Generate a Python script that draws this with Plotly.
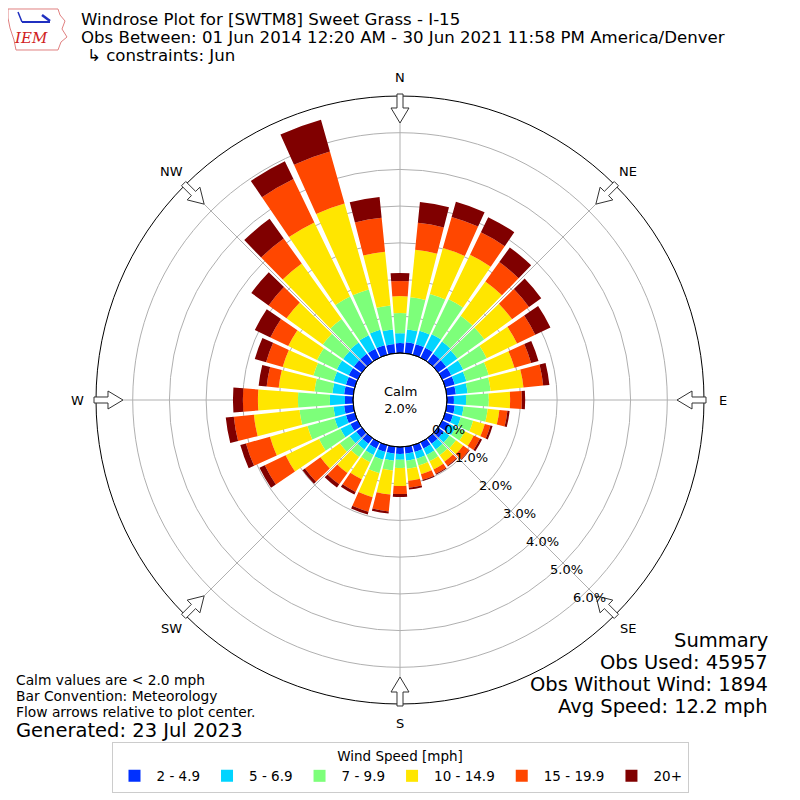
import math
import plotly.graph_objects as go

# direction bins (degrees, meteorological)
directions = [0, 10, 20, 30, 40, 50, 60, 70, 80, 90, 100, 110,
              120, 130, 140, 150, 160, 170, 180, 190, 200, 210, 220, 230,
              240, 250, 260, 270, 280, 290, 300, 310, 320, 330, 340, 350]

speed_bins = ['2 - 4.9', '5 - 6.9', '7 - 9.9', '10 - 14.9', '15 - 19.9', '20+']
bin_colors = ['#0030ff', '#00d4ff', '#7dff7a', '#ffe600', '#ff4700', '#800000']

# frequency [%] per direction for each speed bin
freq_2_5 = [0.27, 0.30, 0.30, 0.30, 0.27, 0.27, 0.27, 0.27, 0.25, 0.19, 0.22, 0.22,
            0.22, 0.19, 0.19, 0.19, 0.19, 0.19, 0.19, 0.19, 0.19, 0.19, 0.19, 0.19,
            0.22, 0.25, 0.25, 0.22, 0.25, 0.25, 0.27, 0.27, 0.27, 0.27, 0.27, 0.25]
freq_5_7 = [0.27, 0.35, 0.38, 0.41, 0.41, 0.38, 0.36, 0.33, 0.32, 0.33, 0.24, 0.22,
            0.19, 0.19, 0.19, 0.19, 0.19, 0.19, 0.16, 0.19, 0.22, 0.19, 0.19, 0.22,
            0.30, 0.32, 0.29, 0.41, 0.32, 0.35, 0.36, 0.36, 0.38, 0.41, 0.44, 0.40]
freq_7_10 = [0.55, 0.88, 1.04, 1.06, 0.87, 0.90, 0.71, 0.63, 0.63, 0.62, 0.66, 0.35,
             0.27, 0.22, 0.19, 0.19, 0.19, 0.22, 0.22, 0.27, 0.38, 0.22, 0.25, 0.33,
             0.65, 0.77, 0.93, 0.87, 0.49, 0.57, 0.60, 0.68, 0.79, 1.17, 1.14, 0.66]
freq_10_15 = [0.46, 1.30, 1.30, 1.34, 1.15, 0.93, 0.92, 0.73, 0.90, 0.58, 0.32, 0.33,
              0.27, 0.24, 0.22, 0.25, 0.25, 0.33, 0.49, 0.66, 0.68, 0.52, 0.54, 0.65,
              1.01, 1.06, 1.25, 1.09, 0.98, 0.87, 0.87, 1.22, 1.86, 2.24, 2.43, 1.47]
freq_15_20 = [0.41, 0.74, 0.88, 0.68, 0.65, 0.57, 0.55, 0.47, 0.54, 0.32, 0.22, 0.16,
              0.19, 0.20, 0.14, 0.13, 0.16, 0.19, 0.22, 0.46, 0.41, 0.38, 0.38, 0.52,
              0.63, 0.68, 0.55, 0.41, 0.33, 0.47, 0.54, 0.60, 0.84, 1.31, 1.47, 0.93]
freq_20_up = [0.22, 0.57, 0.43, 0.46, 0.49, 0.41, 0.46, 0.21, 0.17, 0.09, 0.06, 0.06,
              0.06, 0.02, 0.02, 0.03, 0.03, 0.05, 0.08, 0.06, 0.08, 0.08, 0.11, 0.08,
              0.16, 0.16, 0.22, 0.27, 0.22, 0.32, 0.47, 0.58, 0.66, 0.54, 0.90, 0.57]

compass_vals = [0, 45, 90, 135, 180, 225, 270, 315]
compass_text = ['N', 'NE', 'E', 'SE', 'S', 'SW', 'W', 'NW']
radial_ticks = [0, 1, 2, 3, 4, 5, 6]
RMAX = 7

FONT = 'DejaVu Sans'
W = 792          # figure size; page body adds an 8px margin
OFF = 8
CX, CY = 400, 400   # rose centre on the page (px)
R_OUT = 304         # outer circle radius (px)
R_IN = 47           # calm circle radius (px)
HOLE = R_IN / R_OUT

all_freqs = [freq_2_5, freq_5_7, freq_7_10, freq_10_15, freq_15_20, freq_20_up]

fig = go.Figure()
for name, col, vals in zip(speed_bins, bin_colors, all_freqs):
    fig.add_trace(go.Barpolar(r=vals, theta=directions, name=name, width=8.5,
                              marker=dict(color=col, line=dict(width=0)),
                              hoverinfo='skip'))


def px(x, y):
    # page pixel -> paper coords
    return (x - OFF) / W, 1 - (y - OFF) / W


def polar_px(theta, r):
    t = math.radians(theta)
    return CX + r * math.sin(t), CY - r * math.cos(t)


def make_path(points):
    s = ''
    for i, (x, y) in enumerate(points):
        xx, yy = px(x, y)
        s += ('M' if i == 0 else 'L') + '%.5f,%.5f ' % (xx, yy)
    return s + 'Z'


def arrow_path(theta):
    t = math.radians(theta)
    pts = []
    for u, v in [(306, 3), (292, 3), (292, 9), (277, 0), (292, -9), (292, -3), (306, -3)]:
        x = CX + u * math.sin(t) + v * math.cos(t)
        y = CY - u * math.cos(t) + v * math.sin(t)
        pts.append((x, y))
    return make_path(pts)


shapes = []
for a in compass_vals:
    shapes.append(dict(type='path', path=arrow_path(a), xref='paper', yref='paper',
                       fillcolor='white', line=dict(color='#333333', width=1)))

# inner (calm) circle edge
x0, y0 = px(CX - R_IN, CY + R_IN)
x1, y1 = px(CX + R_IN, CY - R_IN)
shapes.append(dict(type='circle', xref='paper', yref='paper', x0=x0, x1=x1,
                   y0=y0, y1=y1, line=dict(color='black', width=1)))

# rough IEM logo
iowa = [(8, 9), (58, 9), (60, 15), (65, 21), (62, 29), (67, 37), (61, 42), (58, 50),
        (16, 50), (14, 40), (10, 28), (8, 18)]
shapes.append(dict(type='path', path=make_path(iowa), xref='paper', yref='paper',
                   line=dict(color='#e08080', width=1)))
for (a, b, c, d, w) in [(22, 22, 50, 22, 2), (18, 12, 22, 22, 1.5), (42, 15, 50, 21, 2.5)]:
    xa, ya = px(a, b)
    xb, yb = px(c, d)
    shapes.append(dict(type='line', xref='paper', yref='paper', x0=xa, y0=ya, x1=xb, y1=yb,
                       line=dict(color='#2030c0', width=w)))


def note(text, x, y, size, xanchor='left', color='black', family=FONT, italic=False):
    xx, yy = px(x, y)
    t = '<i>%s</i>' % text if italic else text
    return dict(text=t, x=xx, y=yy, xref='paper', yref='paper', xanchor=xanchor,
                yanchor='middle', showarrow=False, font=dict(size=size, color=color, family=family))


annotations = [
    note('Windrose Plot for [SWTM8] Sweet Grass - I-15', 79, 20, 16.6),
    note('Obs Between: 01 Jun 2014 12:20 AM - 30 Jun 2021 11:58 PM America/Denver', 79, 38, 16.6),
    note('↳ constraints: Jun', 85, 56, 16.6),
    note('IEM', 31, 38, 15, 'center', '#d02020', 'DejaVu Serif', True),
    note('Calm values are < 2.0 mph', 14, 680, 13.8),
    note('Bar Convention: Meteorology', 14, 696, 13.8),
    note('Flow arrows relative to plot center.', 14, 712, 13.8),
    note('Generated: 23 Jul 2023', 14, 730, 19.5),
    note('Summary', 770, 640, 19.5, 'right'),
    note('Obs Used: 45957', 770, 662, 19.5, 'right'),
    note('Obs Without Wind: 1894', 770, 684, 19.5, 'right'),
    note('Avg Speed: 12.2 mph', 770, 706, 19.5, 'right'),
    note('Calm<br>2.0%', CX, CY, 13, 'center'),
]

# compass labels just outside the outer ring
for a, lab in zip(compass_vals, compass_text):
    lx, ly = polar_px(a, 323)
    annotations.append(note(lab, lx, ly, 13, 'center'))

# radial tick labels along the 140 degree line
for v in radial_ticks:
    r = R_IN + v * (R_OUT - R_IN) / RMAX
    lx, ly = polar_px(140, r)
    annotations.append(note('%.1f%%' % v, lx + 18, ly - 7, 13, 'center'))

dx0, _ = px(CX - R_OUT, 0)
dx1, _ = px(CX + R_OUT, 0)
_, dy0 = px(0, CY + R_OUT)
_, dy1 = px(0, CY - R_OUT)
lgx, lgy = px(CX, 742)

fig.update_layout(
    width=W, height=W,
    margin=dict(l=0, r=0, t=0, b=0),
    paper_bgcolor='white',
    font=dict(family=FONT, size=13, color='black'),
    polar=dict(
        domain=dict(x=[dx0, dx1], y=[dy0, dy1]),
        hole=HOLE,
        bgcolor='white',
        barmode='stack',
        radialaxis=dict(range=[0, RMAX], tickvals=radial_ticks, showticklabels=False,
                        angle=-50, showline=False, ticks='',
                        gridcolor='#b0b0b0', gridwidth=1, layer='above traces'),
        angularaxis=dict(rotation=90, direction='clockwise', tickvals=compass_vals,
                         showticklabels=False, showline=True, linecolor='black', linewidth=1,
                         gridcolor='#b0b0b0', ticks='', layer='above traces'),
    ),
    legend=dict(orientation='h', x=lgx, xanchor='center', y=lgy, yanchor='top',
                title=dict(text='Wind Speed [mph]', side='top center', font=dict(size=13.5)),
                bordercolor='#cccccc', borderwidth=1, bgcolor='white',
                font=dict(size=13.5), itemwidth=34),
    shapes=shapes,
    annotations=annotations,
)

fig.write_html('out.html')
